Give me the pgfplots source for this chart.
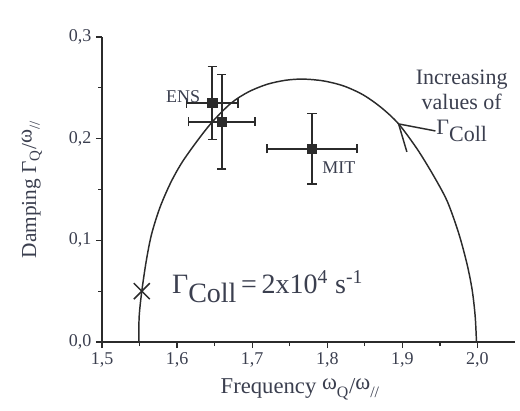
\documentclass[border=0pt]{standalone}
\usepackage{fontspec}
\setmainfont{Liberation Serif}
\usepackage{pgfplots}
\pgfplotsset{compat=1.18}
\definecolor{ink}{HTML}{2B2B2B}
\definecolor{txt}{HTML}{3B3F4F}

\begin{document}
\begin{tikzpicture}
\useasboundingbox (-76.5pt,-51pt) rectangle (313.5pt,256.5pt);
\begin{axis}[
  at={(0,0)}, anchor=south west,
  scale only axis, width=309.75pt, height=228.75pt,
  xmin=1.5, xmax=2.05, ymin=0, ymax=0.3,
  axis x line=bottom, axis y line=left,
  axis line style={-, ink, line width=1.1pt},
  clip=false,
  xtick={1.5,1.6,1.7,1.8,1.9,2.0},
  ytick={0,0.1,0.2,0.3},
  minor x tick num=1, minor y tick num=1,
  tick align=outside,
  major tick length=4.5pt, minor tick length=3pt,
  tick style={ink, line width=0.9pt},
  ticklabel style={font=\fontsize{13.5}{15}\selectfont, text=txt},
  /pgf/number format/fixed,
  /pgf/number format/fixed zerofill,
  /pgf/number format/precision=1,
  /pgf/number format/use comma,
  /pgf/number format/assume math mode=true,
  xlabel={Frequency \raisebox{0.45ex}{ω}\textsubscript{Q}/\raisebox{0.45ex}{ω}\textsubscript{//}},
  ylabel={Damping Γ\textsubscript{Q}/\raisebox{0.45ex}{ω}\textsubscript{//}},
  xlabel style={at={(axis description cs:0.48,-0.155)}, anchor=center,
    font=\fontsize{17}{19}\selectfont, text=txt},
  ylabel style={at={(axis description cs:-0.17,0.5)}, anchor=center,
    font=\fontsize{16}{18}\selectfont, text=txt},
]
% resonance curve
\addplot[ink, line width=1.1pt, smooth, no marks] coordinates {
  (1.549,0.000) (1.5495,0.025) (1.553,0.050) (1.559,0.080) (1.566,0.106)
  (1.577,0.132) (1.591,0.156) (1.606,0.176) (1.626,0.197) (1.647,0.2166)
  (1.672,0.235) (1.695,0.246) (1.720,0.2535) (1.745,0.2575) (1.768,0.2586)
  (1.795,0.2568) (1.822,0.2518) (1.848,0.243) (1.872,0.2305) (1.895,0.2145)
  (1.920,0.1895) (1.942,0.163) (1.960,0.138) (1.975,0.107) (1.986,0.077)
  (1.993,0.051) (1.997,0.025) (1.9987,0.000)
};
% open arrow head on the curve
\addplot[ink, line width=1.1pt, no marks] coordinates {
  (1.944,0.2076) (1.895,0.2145) (1.906,0.187)
};
% measurements
\addplot[ink, line width=1.4pt, only marks, mark=square*,
  mark size=3.2pt, mark options={fill=ink, draw=ink},
  error bars/.cd, x dir=both, y dir=both, x explicit, y explicit,
  error bar style={line width=1.4pt, ink},
  error mark options={rotate=90, mark size=3.5pt, line width=1.2pt, ink}]
  coordinates {
  (1.647,0.235) +- (0.0345,0.036)
  (1.6595,0.2166) +- (0.0445,0.0465)
  (1.7795,0.190) +- (0.060,0.0347)
};
% collision rate marker
\addplot[ink, line width=1.1pt, only marks, mark=x, mark size=8.5pt]
  coordinates {(1.553,0.05)};

\node[anchor=base east, inner sep=0pt, text=txt, font=\fontsize{13.5}{15}\selectfont]
  at (axis cs:1.631,0.236) {ENS};
\node[anchor=base west, inner sep=0pt, text=txt, font=\fontsize{13.5}{15}\selectfont]
  at (axis cs:1.793,0.166) {MIT};
\node[anchor=base west, inner sep=0pt, text=txt, font=\fontsize{21}{24}\selectfont]
  at (axis cs:1.593,0.048)
  {Γ\raisebox{-0.32em}{Coll}\,=\,2x10\textsuperscript{4} s\textsuperscript{-1}};
\node[anchor=north, inner sep=0pt, align=center, text=txt,
  font=\fontsize{16.5}{18.75}\selectfont]
  at (axis cs:1.979,0.2675)
  {Increasing\\values of\\Γ\raisebox{-0.32em}{Coll}};
\end{axis}
\end{tikzpicture}
\end{document}
